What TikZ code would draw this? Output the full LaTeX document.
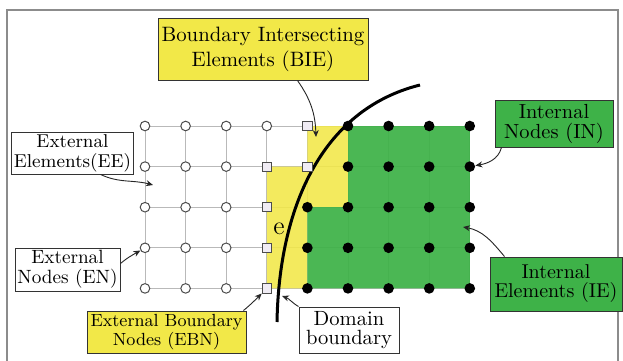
\documentclass[tikz,border=0pt]{standalone}
\usetikzlibrary{arrows.meta}
\definecolor{byel}{RGB}{242,232,72}
\definecolor{bgrn}{RGB}{62,178,72}
\definecolor{gline}{RGB}{185,185,185}
\definecolor{frm}{RGB}{140,140,140}
\definecolor{sqfill}{RGB}{240,236,244}
\tikzset{
 lbl/.style={draw=black!80, line width=0.5pt, align=center, inner sep=1pt, font=\fontsize{10}{10}\selectfont},
 outnode/.style={circle, draw=black!70, fill=white, line width=0.5pt, minimum size=4.8pt, inner sep=0pt},
 bndnode/.style={rectangle, draw=black!70, fill=sqfill, line width=0.5pt, minimum size=4.6pt, inner sep=0pt},
 innode/.style={circle, fill=black, minimum size=5.3pt, inner sep=0pt},
 ptr/.style={-{Stealth[length=3.5pt,width=3pt]}, line width=0.45pt, black!85},
 gridln/.style={gline, line width=0.5pt},
}
\begin{document}
\begin{tikzpicture}[x=0.5pt,y=-0.5pt]
\useasboundingbox (0,0) rectangle (623,360);
\fill[white] (0,0) rectangle (623,360);
% frame
\draw[frm, line width=1pt] (7,365) -- (7,10) -- (618,10) -- (618,365);
% grid coordinates
\foreach \c in {0,...,8}{
  \foreach \r in {0,...,4}{
    \coordinate (p-\c-\r) at ({145+40.6*\c},{126+40.6*\r});
  }
}
% grid lines
\foreach \r in {0,...,4}{ \draw[gridln] (p-0-\r) -- (p-8-\r); }
\foreach \c in {0,...,8}{ \draw[gridln] (p-\c-0) -- (p-\c-4); }
% regions
\fill[byel, fill opacity=0.88] (p-4-0) -- (p-5-0) -- (p-5-2) -- (p-4-2) -- (p-4-4) -- (p-3-4) -- (p-3-1) -- (p-4-1) -- cycle;
\fill[bgrn, fill opacity=0.93] (p-5-0) -- (p-8-0) -- (p-8-4) -- (p-4-4) -- (p-4-2) -- (p-5-2) -- cycle;
% domain boundary
\draw[line width=1.5pt, black] (277,322) .. controls (279,210) and (320,110) .. (420,85);
\node (elab) at (279,229) {\fontsize{13}{13}\selectfont e};
% nodes
\foreach \c in {0,...,3}{ \node[outnode] (n-\c-0) at (p-\c-0) {}; }
\node[bndnode] (n-4-0) at (p-4-0) {};
\foreach \c in {5,...,8}{ \node[innode] (n-\c-0) at (p-\c-0) {}; }
\foreach \c in {0,...,2}{ \node[outnode] (n-\c-1) at (p-\c-1) {}; }
\node[bndnode] (n-3-1) at (p-3-1) {};
\node[bndnode] (n-4-1) at (p-4-1) {};
\foreach \c in {5,...,8}{ \node[innode] (n-\c-1) at (p-\c-1) {}; }
\foreach \r in {2,3,4}{
  \foreach \c in {0,...,2}{ \node[outnode] (n-\c-\r) at (p-\c-\r) {}; }
  \node[bndnode] (n-3-\r) at (p-3-\r) {};
  \foreach \c in {4,...,8}{ \node[innode] (n-\c-\r) at (p-\c-\r) {}; }
}
% labels
\node[lbl, fill=byel, minimum width=105pt, minimum height=31pt, font=\fontsize{10.4}{12.5}\selectfont] (bie) at (263,49) {Boundary Intersecting\\Elements (BIE)};
\node[lbl, fill=white, minimum width=60.5pt, minimum height=21pt, font=\fontsize{9.3}{10}\selectfont] (ee) at (72.5,153) {External\\Elements(EE)};
\node[lbl, fill=white, minimum width=52.5pt, minimum height=21.5pt, font=\fontsize{9.6}{10}\selectfont] (en) at (67.5,269.5) {External\\Nodes (EN)};
\node[lbl, fill=byel, minimum width=79.5pt, minimum height=21pt, font=\fontsize{8.8}{9.2}\selectfont] (ebn) at (166.5,332) {External Boundary\\Nodes (EBN)};
\node[lbl, fill=white, minimum width=50pt, minimum height=23pt, font=\fontsize{10.3}{9.6}\selectfont] (dom) at (349,330) {Domain\\boundary};
\node[lbl, fill=bgrn, minimum width=59pt, minimum height=23.5pt, font=\fontsize{10.2}{10}\selectfont] (in) at (554,123.5) {Internal\\Nodes (IN)};
\node[lbl, fill=bgrn, minimum width=66pt, minimum height=27pt, font=\fontsize{10}{9.5}\selectfont] (ie) at (556,284) {Internal\\Elements (IE)};
% arrow targets
\coordinate (biet) at (316,137);
\coordinate (eet) at (153,185);
\coordinate (domt) at (282,296);
\coordinate (iet) at (463,227);
% arrows
\draw[ptr] ([xshift=-35.5pt]bie.south east) to[out=-55,in=92] (biet);
\draw[ptr] ([xshift=-16.5pt]ee.south east) to[out=-25,in=165] (eet);
\draw[ptr] ([yshift=3pt]en.east) to[out=40,in=210] (n-0-3);
\draw[ptr] ([xshift=-1.5pt]ebn.north east) to[out=40,in=225] (n-3-4);
\draw[ptr] (dom.north west) to[out=150,in=-20] (domt);
\draw[ptr] ([xshift=3.5pt]in.south west) to[out=-105,in=10] (n-8-1);
\draw[ptr] ([xshift=7.5pt]ie.north west) to[out=130,in=-10] (iet);
\end{tikzpicture}
\end{document}
